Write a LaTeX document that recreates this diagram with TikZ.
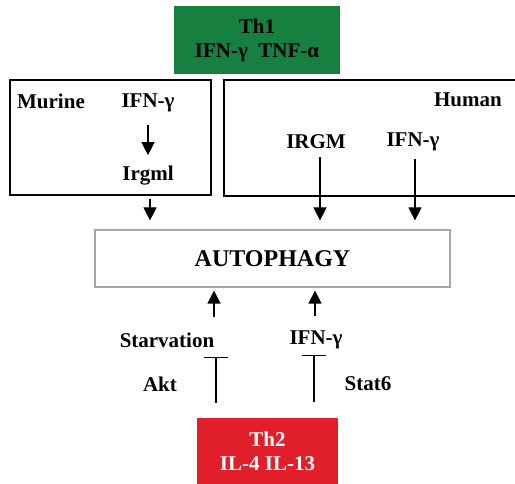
\documentclass[tikz,border=0pt]{standalone}
\usepackage{fontspec}
\setmainfont{Liberation Serif}
\usetikzlibrary{arrows.meta,positioning}
\definecolor{thgreen}{HTML}{158040}
\definecolor{thred}{HTML}{E01F2A}

\begin{document}
\begin{tikzpicture}[x=1pt,y=-1pt,
  lbl/.style={font=\fontsize{21}{24}\selectfont\bfseries, inner sep=0pt, align=center},
  cellbox/.style={draw, line width=1.4pt, inner sep=0pt},
  act/.style={-{Triangle[length=13pt,width=13pt]}, line width=1.2pt},
  inh/.style={-{Bar[width=24pt,line width=1.2pt]}, line width=1.2pt}]
  \clip (0,0) rectangle (515,484);

  % cytokine sources
  \node[lbl, fill=thgreen, minimum width=166pt, minimum height=68pt] (th1) at (257,40) {Th1\\IFN-γ\ \ TNF-α};
  \node[lbl, fill=thred, text=white, minimum width=141pt, minimum height=66pt] (th2) at (267.5,451) {Th2\\IL-4 IL-13};

  % murine and human boxes
  \node[cellbox, minimum width=201pt, minimum height=115pt] (murine) at (110.5,137.5) {};
  \node[cellbox, minimum width=300pt, minimum height=116pt] (human) at (374,138) {};
  \node[lbl] (murlbl) at (51,101) {Murine};
  \node[lbl] (ifnm) at (148,103) {IFN-γ};
  \node[lbl] (irgml) at (148,176) {Irgml};
  \node[lbl, anchor=east] (humlbl) at (502,100) {Human};
  \node[lbl] (irgm) at (316,142) {IRGM};
  \node[lbl] (ifnh) at (413,142) {IFN-γ};

  \node[draw=gray!70, line width=1.2pt, minimum width=355pt, minimum height=57pt,
        font=\fontsize{24}{27}\selectfont\bfseries] (autophagy) at (272.5,258.5) {AUTOPHAGY};

  % lower inputs
  \node[lbl] (starv) at (167,340) {Starvation};
  \node[lbl] (ifnb) at (316,340) {IFN-γ};
  \node[lbl] (akt) at (160,384) {Akt};
  \node[lbl] (stat) at (368,384) {Stat6};
  \coordinate (aktbar) at (216,357);
  \coordinate (statbar) at (314,355);

  \draw[act, shorten <=13pt, shorten >=11pt] (ifnm) -- (irgml);
  \draw[act, shorten <=3pt, shorten >=9pt] (murine.south -| 150,0) -- (autophagy.north -| 150,0);
  \draw[act, shorten <=8pt, shorten >=9pt] ([xshift=4pt]irgm.south) -- ([xshift=4pt]irgm.south |- autophagy.north);
  \draw[act, shorten <=8pt, shorten >=9pt] ([xshift=2pt]ifnh.south) -- ([xshift=2pt]ifnh.south |- autophagy.north);

  \draw[act, shorten <=15pt, shorten >=3pt] (starv.north -| 214,0) -- (autophagy.south -| 214,0);
  \draw[act, shorten <=15pt, shorten >=3pt] (ifnb.north -| 315,0) -- (autophagy.south -| 315,0);

  \draw[inh, shorten <=15pt] (th2.north -| aktbar) -- (aktbar);
  \draw[inh, shorten <=16pt] (th2.north -| statbar) -- (statbar);
\end{tikzpicture}
\end{document}
